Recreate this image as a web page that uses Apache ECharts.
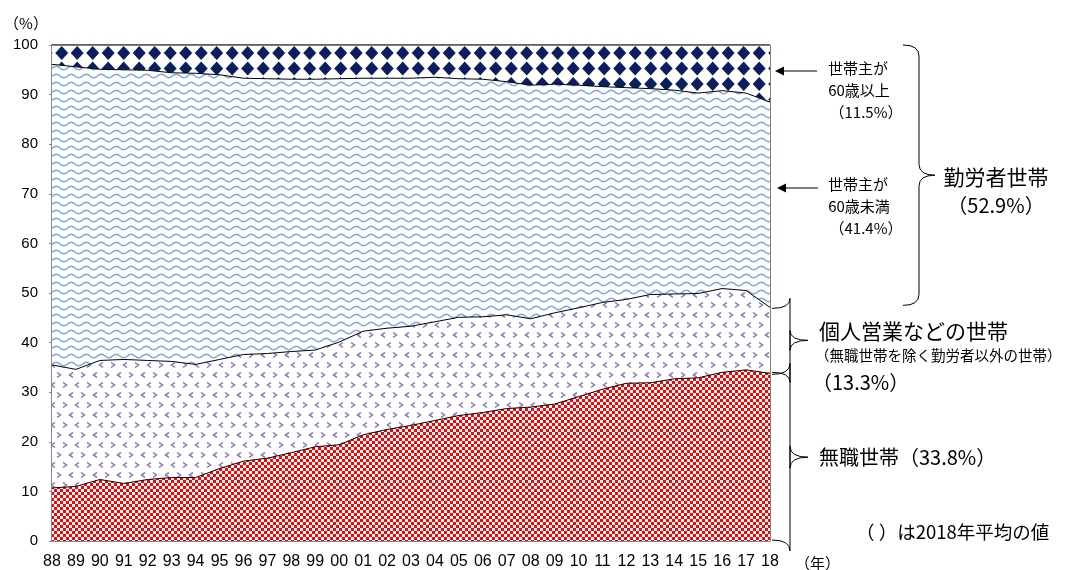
<!DOCTYPE html>
<html>
<head>
<meta charset="utf-8">
<script src="https://cdn.jsdelivr.net/npm/echarts@6/dist/echarts.min.js"></script>
<style>
  html, body { margin: 0; padding: 0; background: #fff; }
  #main { width: 1073px; height: 570px; }
</style>
</head>
<body>
<div id="main"></div>
<script>
// 年（1988〜2018）
const years = ['88','89','90','91','92','93','94','95','96','97','98','99','00','01','02','03',
  '04','05','06','07','08','09','10','11','12','13','14','15','16','17','18'];
// 無職世帯
const mushoku = [10.7, 11.0, 12.4, 11.6, 12.4, 12.8, 12.8, 14.6, 16.1, 16.7, 17.8, 19.0, 19.4, 21.4, 22.5, 23.3,
  24.3, 25.3, 25.9, 26.7, 27.0, 27.6, 29.1, 30.6, 31.8, 31.9, 32.7, 32.9, 34.0, 34.5, 33.8];
// 個人営業などの世帯
const kojin = [24.8, 23.6, 24.0, 25.0, 24.0, 23.4, 22.8, 22.0, 21.5, 21.1, 20.4, 19.5, 20.7, 20.9, 20.4, 20.0,
  19.9, 19.8, 19.3, 18.9, 17.8, 18.4, 17.9, 17.5, 16.9, 17.8, 17.1, 17.0, 16.9, 16.0, 13.3];
// 勤労者世帯（世帯主が60歳未満）
const kinrouU60 = [60.6, 61.0, 58.7, 58.4, 58.5, 58.2, 58.7, 57.4, 55.7, 55.4, 54.9, 54.6, 53.1, 51.0, 50.4, 50.0,
  49.3, 48.1, 47.9, 47.0, 47.1, 46.1, 44.9, 43.5, 42.7, 41.5, 41.1, 40.4, 39.9, 39.8, 41.4];
// 勤労者世帯（世帯主が60歳以上）
const kinrou60 = [3.9, 4.4, 4.9, 5.0, 5.1, 5.6, 5.7, 6.0, 6.7, 6.8, 6.9, 6.9, 6.8, 6.7, 6.7, 6.7,
  6.5, 6.8, 6.9, 7.4, 8.1, 7.9, 8.1, 8.4, 8.6, 8.8, 9.1, 9.7, 9.2, 9.7, 11.5];

function tile(w, h, draw) {
  const c = document.createElement('canvas');
  c.width = w; c.height = h;
  draw(c.getContext('2d'));
  return { image: c, repeat: 'repeat' };
}

// 赤の市松
const redPattern = tile(6, 6, ctx => {
  ctx.fillStyle = '#ff0000';
  ctx.fillRect(0, 0, 6, 6);
  ctx.fillStyle = '#ffffff';
  ctx.fillRect(0, 0, 3, 3);
  ctx.fillRect(3, 3, 3, 3);
});

// 紫の山形
const purplePattern = tile(24, 20, ctx => {
  ctx.fillStyle = '#fff';
  ctx.fillRect(0, 0, 24, 20);
  ctx.strokeStyle = '#8a72bf';
  ctx.lineWidth = 1.5;
  const chev = (x, y, dir) => {
    ctx.beginPath();
    ctx.moveTo(x + 2 * dir, y - 2.5);
    ctx.lineTo(x - 1.5 * dir, y);
    ctx.lineTo(x + 2 * dir, y + 2.5);
    ctx.stroke();
  };
  chev(5, 5, 1);
  chev(17, 5, -1);
  chev(11, 15, -1);
  chev(23, 15, 1);
  chev(-1, 15, 1);
});

// 青の波線
const bluePattern = tile(15, 8, ctx => {
  ctx.fillStyle = '#fff';
  ctx.fillRect(0, 0, 15, 8);
  ctx.strokeStyle = '#80a9de';
  ctx.lineWidth = 1.5;
  ctx.beginPath();
  for (let x = -1; x <= 16; x += 0.5) {
    const y = 4 + 1.7 * Math.sin(2 * Math.PI * x / 15);
    if (x === -1) ctx.moveTo(x, y); else ctx.lineTo(x, y);
  }
  ctx.stroke();
});

// 紺のダイヤ
const navyPattern = tile(31, 31, ctx => {
  ctx.fillStyle = '#fff';
  ctx.fillRect(0, 0, 31, 31);
  ctx.fillStyle = '#0b1f5e';
  const s = 15.5;
  for (let i = -1; i <= 2; i++) {
    for (let j = -1; j <= 2; j++) {
      const cx = i * s + 15.2, cy = j * s + 6.5;
      ctx.beginPath();
      ctx.moveTo(cx, cy - 7);
      ctx.lineTo(cx + 6.5, cy);
      ctx.lineTo(cx, cy + 7);
      ctx.lineTo(cx - 6.5, cy);
      ctx.closePath();
      ctx.fill();
    }
  }
});

const fontJP = "'Noto Sans CJK JP', sans-serif";
const fontNum = "'Liberation Sans', 'Noto Sans CJK JP', sans-serif";

function areaSeries(name, data, pattern, z) {
  return {
    name: name,
    type: 'line',
    stack: 'total',
    data: data,
    symbol: 'none',
    showSymbol: false,
    z: z,
    lineStyle: { color: '#000', width: 1 },
    areaStyle: { color: pattern, opacity: 1 },
    emphasis: { disabled: true }
  };
}

const chart = echarts.init(document.getElementById('main'));
chart.setOption({
  animation: false,
  grid: {
    left: 52, right: 303, top: 45, bottom: 28,
    show: true, borderColor: '#000', borderWidth: 1, backgroundColor: 'transparent'
  },
  xAxis: {
    type: 'category',
    data: years,
    boundaryGap: false,
    axisLine: { lineStyle: { color: '#888', width: 2 } },
    axisTick: { show: true, inside: true, length: 3, alignWithLabel: true, lineStyle: { color: '#888' }, interval: 0 },
    axisLabel: { color: '#000', fontSize: 16, fontFamily: fontNum, margin: 13, interval: 0 },
    splitLine: { show: false }
  },
  yAxis: {
    type: 'value',
    min: 0, max: 100, interval: 10,
    axisLine: { show: true, lineStyle: { color: '#888', width: 2 } },
    axisTick: { show: true, length: 3, lineStyle: { color: '#888' } },
    axisLabel: { color: '#000', fontSize: 15, fontFamily: fontNum, margin: 14 },
    splitLine: { show: false }
  },
  series: [
    areaSeries('無職世帯', mushoku, redPattern, 6),
    areaSeries('個人営業などの世帯', kojin, purplePattern, 5),
    areaSeries('世帯主が60歳未満', kinrouU60, bluePattern, 4),
    areaSeries('世帯主が60歳以上', kinrou60, navyPattern, 3)
  ]
});

// 注記（括弧・矢印・文字）
const last = years.length - 1;
const c1 = mushoku[last];
const c2 = c1 + kojin[last];
const yPx = v => chart.convertToPixel({ yAxisIndex: 0 }, v);
const xRight = chart.convertToPixel({ xAxisIndex: 0 }, years[last]);

const stroke = { stroke: '#000', lineWidth: 1, fill: null };

function curve(x1, y1, cx, cy, x2, y2) {
  return { type: 'bezierCurve', shape: { x1: x1, y1: y1, cpx1: cx, cpy1: cy, x2: x2, y2: y2 }, style: stroke, silent: true };
}
function seg(x1, y1, x2, y2) {
  return { type: 'line', shape: { x1: x1, y1: y1, x2: x2, y2: y2 }, style: stroke, silent: true };
}

function brace(x0, y1, y2, w, r) {
  const xm = x0 + w / 2, ym = (y1 + y2) / 2;
  return [
    curve(x0, y1, xm, y1, xm, y1 + r),
    seg(xm, y1 + r, xm, ym - r),
    curve(xm, ym - r, xm, ym, x0 + w, ym),
    curve(x0 + w, ym, xm, ym, xm, ym + r),
    seg(xm, ym + r, xm, y2 - r),
    curve(xm, y2 - r, xm, y2, x0, y2)
  ];
}

function arrow(xTip, xEnd, y) {
  return [
    seg(xTip + 6, y, xEnd, y),
    { type: 'polygon', shape: { points: [[xTip, y], [xTip + 9, y - 4.5], [xTip + 9, y + 4.5]] }, style: { fill: '#000' }, silent: true }
  ];
}

function txt(text, x, y, size, align, family) {
  return {
    type: 'text',
    style: {
      text: text, x: x, y: y,
      fontSize: size, fontFamily: family || fontJP, fill: '#000',
      textAlign: align || 'left', align: align || 'left',
      textVerticalAlign: 'middle', verticalAlign: 'middle'
    },
    silent: true
  };
}

const gx = xRight + 2;
chart.setOption({
  graphic: [
    ...brace(gx, yPx(0) - 1, yPx(c1) + 1, 36, 11),
    ...brace(gx, yPx(c1) - 1, yPx(c2) + 1, 36, 10),
    ...brace(903, yPx(100), yPx(c2) - 2, 32, 11),
    ...arrow(775, 817, 71),
    ...arrow(777, 818, 188),
    txt('（%）', 26, 23, 15, 'center'),
    txt('（年）', 795, 563, 15, 'left'),
    txt('世帯主が', 858, 68, 15, 'center'),
    txt('60歳以上', 859, 90, 15, 'center'),
    txt('（11.5%）', 866, 112, 15, 'center'),
    txt('世帯主が', 858, 184, 15, 'center'),
    txt('60歳未満', 859, 206, 15, 'center'),
    txt('（41.4%）', 866, 228, 15, 'center'),
    txt('勤労者世帯', 996, 177, 21, 'center'),
    txt('（52.9%）', 996, 205, 20, 'center'),
    txt('個人営業などの世帯', 819, 331, 21, 'left'),
    txt('（無職世帯を除く勤労者以外の世帯）', 815, 355, 14.5, 'left'),
    txt('（13.3%）', 812, 382, 20, 'left'),
    txt('無職世帯（33.8%）', 819, 457, 20, 'left'),
    txt('（ ）は2018年平均の値', 856, 532, 18.5, 'left')
  ]
});
</script>
</body>
</html>
